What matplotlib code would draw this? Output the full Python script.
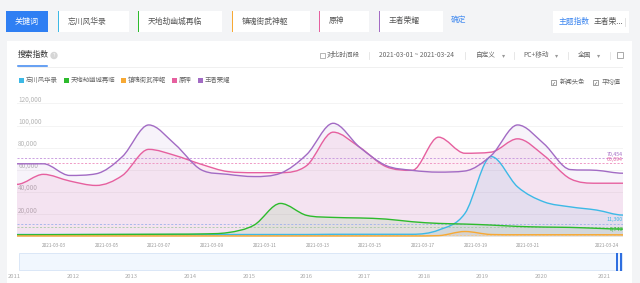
import matplotlib
matplotlib.use('Agg')
import matplotlib.pyplot as plt
from matplotlib.path import Path
from matplotlib.patches import PathPatch, Rectangle

plt.rcParams['font.family'] = ['Noto Sans CJK SC', 'DejaVu Sans']

# data, one value per day 2021-03-01 .. 2021-03-24
dates = ['2021-03-%02d' % d for d in range(1, 25)]
names = ['忘川风华录', '天地劫幽城再临', '镇魂街武神躯', '原神', '王者荣耀']
colors = ['#3cb9e6', '#2dbb2d', '#f7a934', '#e6609f', '#a26bc4']

wangchuan = [1800, 1800, 1800, 1800, 1800, 1800, 1800, 1800, 1800, 1800, 1800, 1800,
             2000, 2000, 2000, 2000, 5800, 20800, 72000, 44700, 31200, 26700, 23800, 19300]
tiandijie = [1500, 1600, 1700, 1800, 1900, 2000, 2100, 2300, 3500, 10300, 29800, 19000,
             17200, 16700, 15700, 13300, 11800, 11200, 10300, 9100, 8500, 8200, 7400, 6700]
zhenhunjie = [500, 500, 500, 500, 500, 500, 500, 500, 500, 500, 500, 500,
              500, 500, 500, 500, 800, 4500, 1800, 1600, 1600, 1600, 1600, 1500]
yuanshen = [47000, 56000, 50000, 46000, 55000, 78500, 73000, 65000, 58500, 57500, 57500, 64000,
            94000, 80500, 63000, 59600, 89500, 75000, 76000, 88000, 73000, 52000, 48000, 48000]
wangzhe = [65500, 65500, 55000, 56500, 72000, 100500, 83000, 60000, 56000, 54000, 57000, 74000,
           102000, 80500, 64000, 59600, 58000, 59000, 73000, 100500, 83500, 60300, 59600, 57000]
series = [wangchuan, tiandijie, zhenhunjie, yuanshen, wangzhe]

avg_values = [11300, 8749, 1500, 66094, 70454]
avg_labels = ['11,300', '8,749', '', '66,094', '70,454']

tick_dates = ['2021-03-03', '2021-03-05', '2021-03-07', '2021-03-09', '2021-03-11',
              '2021-03-13', '2021-03-15', '2021-03-17', '2021-03-19', '2021-03-21', '2021-03-24']
y_ticks = [20000, 40000, 60000, 80000, 100000, 120000]
years = [str(y) for y in range(2011, 2022)]

W, H = 640, 283
fig = plt.figure(figsize=(W / 100, H / 100), dpi=100)
fig.patch.set_facecolor('#f3f4f6')

# background axes in pixel coordinates for all the page chrome
bg = fig.add_axes([0, 0, 1, 1])
bg.set_xlim(0, W)
bg.set_ylim(H, 0)
bg.axis('off')


def box(x0, y0, x1, y1, fc, ec='none', lw=0, z=1):
    bg.add_patch(Rectangle((x0, y0), x1 - x0, y1 - y0, fc=fc, ec=ec, lw=lw, zorder=z))


# top keyword bar
box(6, 11, 48, 32, '#2f7ff3')
bg.text(27, 21.5, '关键词', color='white', fontsize=5.8, ha='center', va='center')
kw_boxes = [(58, 129), (138, 222), (232, 310), (319, 369), (379, 443)]
for (x0, x1), name, c in zip(kw_boxes, names, colors):
    box(x0, 11, x1, 32, 'white')
    box(x0, 11, x0 + 1.3, 32, c, z=2)
    bg.text(x0 + 10, 21.5, name, color='#555555', fontsize=5.6, va='center')
bg.text(451, 20, '确定', color='#4a8ff0', fontsize=5.6, va='center')
box(553, 11, 629, 33, 'white')
bg.text(559, 22, '主题指数', color='#3c86f0', fontsize=5.6, va='center')
bg.text(594, 22, '王者荣...', color='#555555', fontsize=5.6, va='center')
bg.plot([625, 625], [18, 26], color='#dddddd', lw=0.6)

# main white card
box(7, 41, 632, H, 'white')
bg.text(18, 55, '搜索指数', color='#333333', fontsize=5.6, va='center')
bg.add_patch(plt.Circle((54, 55.5), 3.0, color='#d6d6d6', zorder=3))
bg.text(54, 55.5, '?', color='white', fontsize=3.8, ha='center', va='center', zorder=4)
bg.plot([18, 622], [66.5, 66.5], color='#eeeeee', lw=0.6)
bg.plot([18, 47], [66, 66], color='#3c86f0', lw=1.1)

# header controls
gray = '#666666'
bg.add_patch(Rectangle((319.5, 52.5), 5, 5, fc='white', ec='#999999', lw=0.5))
bg.text(327, 55, '对比时间段', color=gray, fontsize=4.8, va='center')
bg.text(379, 55, '2021-03-01 ~ 2021-03-24', color=gray, fontsize=4.8, va='center')
bg.text(476, 55, '自定义', color=gray, fontsize=4.8, va='center')
bg.text(523, 55, 'PC+移动', color=gray, fontsize=4.8, va='center')
bg.text(578, 55, '全国', color=gray, fontsize=4.8, va='center')
for x in [504, 557, 599]:
    bg.text(x, 55, '▾', color='#999999', fontsize=4.5, ha='center', va='center')
for x in [369, 465, 514, 568, 610]:
    bg.plot([x, x], [51.5, 58.5], color='#e3e3e3', lw=0.6)
bg.add_patch(Rectangle((617, 52), 6, 6, fc='none', ec='#888888', lw=0.5))

# legend row
legend_x = [21, 66, 123, 174, 200]
for x, name, c in zip(legend_x, names, colors):
    box(x - 2.5, 77.5, x + 2.5, 82.5, c)
    bg.text(x + 5, 80, name, color=gray, fontsize=4.6, va='center')
for x, label in [(553, '新闻头条'), (595, '平均值')]:
    bg.add_patch(Rectangle((x - 2.5, 79.5), 5, 5, fc='white', ec='#777777', lw=0.5))
    bg.text(x, 82.3, '✓', color='#444444', fontsize=3.5, ha='center', va='center', family='DejaVu Sans')
    bg.text(x + 7, 82, label, color=gray, fontsize=4.6, va='center')

# slider strip and years
box(19, 253, 622, 270, '#f1f7fe', ec='#cfe0f5', lw=0.5)
box(616, 252.5, 618, 270.5, '#2f6fe0', z=3)
box(619.5, 252.5, 621.5, 270.5, '#2f6fe0', z=3)
year_x = [14, 73, 131, 190, 249, 306, 364, 424, 482, 541, 604]
for x, y in zip(year_x, years):
    bg.text(x, 276.5, y, color='#aaaaaa', fontsize=4.2, ha='center', va='center')

# chart axes, positioned in pixels: day 0 at x=17, day 23 at x=623
ylo, yhi = -3000, 123000
px_per = 1.11 / 1000
top_px = 236.5 - yhi * px_per
bot_px = 236.5 - ylo * px_per
ax = fig.add_axes([17 / W, 1 - bot_px / H, 606 / W, (bot_px - top_px) / H])
ax.set_xlim(0, len(dates) - 1)
ax.set_ylim(ylo, yhi)
ax.patch.set_alpha(0)
for s in ax.spines.values():
    s.set_visible(False)
ax.tick_params(length=0)
ax.set_yticks([])

xs = list(range(len(dates)))


def smooth_path(ys, close=False):
    n = len(ys)
    m = []
    for k in range(n):
        if k == 0 or k == n - 1:
            t = 0.0
        else:
            d0 = ys[k] - ys[k - 1]
            d1 = ys[k + 1] - ys[k]
            if d0 * d1 <= 0:
                t = 0.0
            else:
                t = (d0 + d1) / 2
                lim = 3 * min(abs(d0), abs(d1))
                t = max(-lim, min(lim, t))
        m.append(t)
    verts = [(xs[0], ys[0])]
    codes = [Path.MOVETO]
    for k in range(n - 1):
        verts += [(xs[k] + 1 / 3, ys[k] + m[k] / 3),
                  (xs[k + 1] - 1 / 3, ys[k + 1] - m[k + 1] / 3),
                  (xs[k + 1], ys[k + 1])]
        codes += [Path.CURVE4] * 3
    if close:
        verts += [(xs[-1], 0), (xs[0], 0), (xs[0], ys[0])]
        codes += [Path.LINETO, Path.LINETO, Path.CLOSEPOLY]
    return Path(verts, codes)


for yv in y_ticks:
    ax.axhline(yv, color='#f2f2f2', lw=0.6, zorder=0)
    ax.text(0.002, yv, format(yv, ','), transform=ax.get_yaxis_transform(),
            color='#b5b5b5', fontsize=4.6, va='bottom', ha='left', zorder=1)

fill_alpha = [0.10, 0.10, 0.08, 0.10, 0.08]
for ys, c, a in zip(series, colors, fill_alpha):
    ax.add_patch(PathPatch(smooth_path(ys, close=True), fc=c, ec='none', alpha=a, zorder=1))

avg_colors = ['#9fb0ea', '#a9c9a4', '#f4c98a', '#ee8cbd', '#c392dc']
label_offsets = [1900, -300, 0, 700, 900]
for v, lab, c, lc, off in zip(avg_values, avg_labels, avg_colors, colors, label_offsets):
    ax.axhline(v, color=c, lw=0.6, ls=(0, (2.5, 2)), zorder=2)
    if lab:
        ax.text(len(dates) - 1, v + off, lab, color=lc, fontsize=3.8, ha='right',
                va='bottom' if off > 0 else 'top', zorder=5)

for ys, c in zip(series, colors):
    ax.add_patch(PathPatch(smooth_path(ys), fc='none', ec=c, lw=1.0, zorder=4))

ax.set_xticks([dates.index(d) - 0.6 for d in tick_dates])
ax.set_xticklabels(tick_dates, fontsize=3.4, color='#999999')
ax.tick_params(axis='x', pad=2.5)

fig.savefig('out.png', dpi=100, facecolor=fig.get_facecolor())
